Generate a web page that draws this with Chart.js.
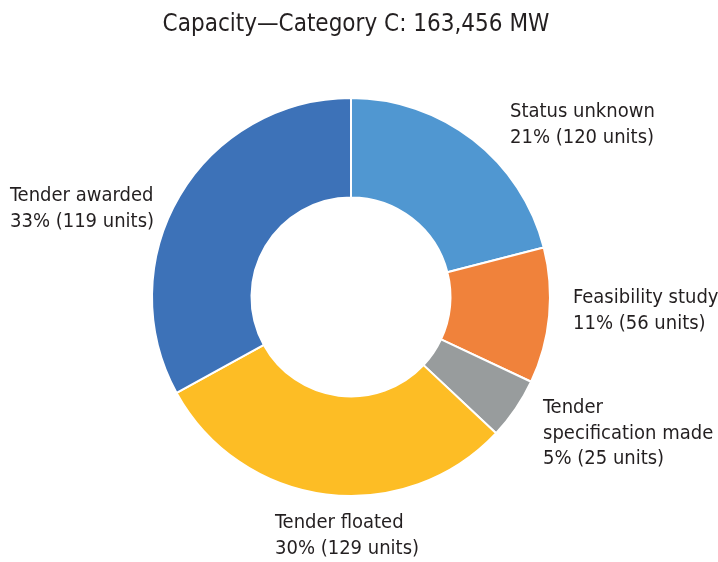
<!DOCTYPE html>
<html>
<head>
<meta charset="utf-8">
<script src="https://cdn.jsdelivr.net/npm/chart.js@4"></script>
<style>
  html, body { margin: 0; padding: 0; background: #fff; }
  #wrap { width: 718px; height: 562px; position: relative; }
</style>
</head>
<body>
<div id="wrap"><canvas id="donut"></canvas></div>
<script>
// data
var titleText = 'Capacity\u2014Category C: 163,456 MW';
var categories = ['Status unknown', 'Feasibility study', 'Tender specification made', 'Tender floated', 'Tender awarded'];
var shares = [21, 11, 5, 30, 33];       // % of capacity
var units = [120, 56, 25, 129, 119];
var colors = ['#5097D1', '#F0823B', '#989C9D', '#FDBD25', '#3D72B8'];

// label text lines (category name may wrap)
var labelLines = [
  ['Status unknown'],
  ['Feasibility study'],
  ['Tender', 'specification made'],
  ['Tender floated'],
  ['Tender awarded']
];
// where each label's first line sits, relative to the donut centre
var labelOffsets = [
  { dx: 159, dy: -185 },
  { dx: 222, dy: 1 },
  { dx: 192, dy: 111 },
  { dx: -76, dy: 226 },
  { dx: -341, dy: -101 }
];

var FONT = '"DejaVu Sans Condensed", "DejaVu Sans", sans-serif';

var labelPlugin = {
  id: 'labels',
  afterDraw: function(chart) {
    var ctx = chart.ctx;
    var arc = chart.getDatasetMeta(0).data[0];
    var cx = arc.x, cy = arc.y;
    ctx.save();
    ctx.fillStyle = '#231f20';
    ctx.textBaseline = 'middle';

    // title
    ctx.font = '24px ' + FONT;
    ctx.textAlign = 'center';
    ctx.fillText(titleText, 356, 25);

    ctx.font = '20px ' + FONT;
    ctx.textAlign = 'left';
    var lineH = 25.5;
    for (var i = 0; i < categories.length; i++) {
      var lines = labelLines[i].concat([shares[i] + '% (' + units[i] + ' units)']);
      var x = cx + labelOffsets[i].dx;
      var y = cy + labelOffsets[i].dy;
      for (var j = 0; j < lines.length; j++) {
        ctx.fillText(lines[j], x, y + j * lineH);
      }
    }
    ctx.restore();
  }
};

var ctx = document.getElementById('donut').getContext('2d');
var chart = new Chart(ctx, {
  type: 'doughnut',
  data: {
    labels: categories,
    datasets: [{
      data: shares,
      backgroundColor: colors,
      borderColor: '#ffffff',
      borderWidth: 2
    }]
  },
  options: {
    responsive: true,
    maintainAspectRatio: false,
    animation: false,
    cutout: '50%',
    layout: {
      padding: { top: 97, bottom: 65, left: 0, right: 16 }
    },
    plugins: {
      legend: { display: false },
      title: { display: false },
      tooltip: { enabled: false }
    }
  },
  plugins: [labelPlugin]
});
</script>
</body>
</html>
